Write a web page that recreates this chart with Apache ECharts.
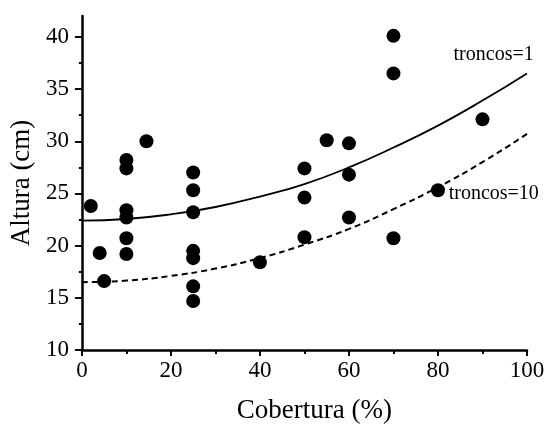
<!DOCTYPE html>
<html>
<head>
<meta charset="utf-8">
<script src="https://cdn.jsdelivr.net/npm/echarts@6/dist/echarts.min.js"></script>
<style>
  html, body { margin: 0; padding: 0; background: #fff; }
  #chart { width: 552px; height: 429px; }
</style>
</head>
<body>
<div id="chart"></div>
<script>
// observed points: cobertura (%) and altura (cm)
var cobertura = [2, 4, 5, 10, 10, 10, 10, 10, 10, 14.5, 25, 25, 25, 25, 25, 25, 25, 40, 50, 50, 50, 55, 60, 60, 60, 70, 70, 70, 80, 90];
var altura = [23.8, 19.3, 16.6, 28.2, 27.4, 23.4, 22.7, 20.7, 19.2, 30.0, 27.0, 25.3, 23.2, 19.5, 18.8, 16.1, 14.7, 18.4, 27.4, 24.6, 20.8, 30.1, 29.8, 26.8, 22.7, 40.1, 36.5, 20.7, 25.3, 32.1];

// fitted curves
var curveX = [0, 10, 20, 30, 40, 50, 60, 70, 80, 90, 100];
var troncos1 = [22.4, 22.55, 23.0, 23.7, 24.7, 25.9, 27.5, 29.4, 31.5, 33.9, 36.5];
var troncos10 = [16.5, 16.65, 17.1, 17.8, 18.8, 20.1, 21.6, 23.5, 25.6, 28.0, 30.7];

var yMajor = [10, 15, 20, 25, 30, 35, 40];
var yMinor = [12.5, 17.5, 22.5, 27.5, 32.5, 37.5];

var font = 'Liberation Serif';
var chart = echarts.init(document.getElementById('chart'));

function zip(xs, ys) {
  return xs.map(function (x, i) { return [x, ys[i]]; });
}

var option = {
  backgroundColor: '#fff',
  animation: false,
  grid: { left: 77, right: 25, top: 16, bottom: 71 },
  xAxis: {
    type: 'value',
    min: 0,
    max: 100,
    interval: 20,
    name: 'Cobertura (%)',
    nameLocation: 'middle',
    nameGap: 47,
    nameTextStyle: { fontFamily: font, fontSize: 27, color: '#000', padding: [0, 0, 0, 20] },
    axisLine: { lineStyle: { color: '#000', width: 2.5 } },
    axisTick: { length: 6, lineStyle: { color: '#000', width: 2 } },
    minorTick: { show: true, splitNumber: 2, length: 4, lineStyle: { color: '#000', width: 2 } },
    splitLine: { show: false },
    axisLabel: { fontFamily: font, fontSize: 23, color: '#000', margin: 9 }
  },
  yAxis: [{
    type: 'value',
    min: 10,
    max: 42,
    interval: 5,
    name: 'Altura (cm)',
    nameLocation: 'middle',
    nameGap: 43,
    nameTextStyle: { fontFamily: font, fontSize: 27, color: '#000' },
    axisLine: { lineStyle: { color: '#000', width: 2.5 } },
    axisTick: { length: 7, customValues: yMajor, lineStyle: { color: '#000', width: 2 } },
    splitLine: { show: false },
    axisLabel: { fontFamily: font, fontSize: 23, color: '#000', margin: 13, customValues: yMajor }
  }, {
    type: 'value',
    position: 'left',
    min: 10,
    max: 42,
    interval: 5,
    axisLine: { show: false },
    axisTick: { length: 3, customValues: yMinor, lineStyle: { color: '#000', width: 2 } },
    axisLabel: { show: false },
    splitLine: { show: false }
  }],
  series: [{
    type: 'line',
    data: zip(curveX, troncos1),
    smooth: true,
    showSymbol: false,
    lineStyle: { color: '#000', width: 1.8 },
    markPoint: {
      symbol: 'circle',
      symbolSize: 0,
      data: [{ coord: [83.5, 38.3] }],
      label: { show: true, position: 'right', distance: 0, formatter: 'troncos=1', fontFamily: font, fontSize: 20, color: '#000' }
    }
  }, {
    type: 'line',
    data: zip(curveX, troncos10),
    smooth: true,
    showSymbol: false,
    lineStyle: { color: '#000', width: 2, type: [6, 4] },
    markPoint: {
      symbol: 'circle',
      symbolSize: 0,
      data: [{ coord: [82.4, 24.95] }],
      label: { show: true, position: 'right', distance: 0, formatter: 'troncos=10', fontFamily: font, fontSize: 20, color: '#000' }
    }
  }, {
    type: 'scatter',
    data: zip(cobertura, altura),
    symbol: 'circle',
    symbolSize: 14,
    itemStyle: { color: '#000', opacity: 1 }
  }]
};

chart.setOption(option);
</script>
</body>
</html>
